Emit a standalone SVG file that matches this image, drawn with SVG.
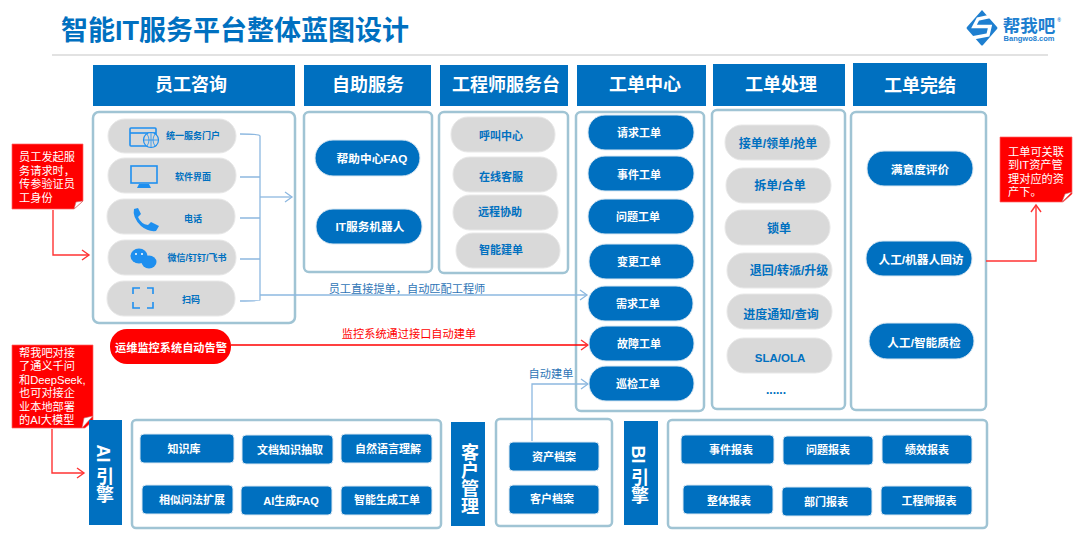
<svg xmlns="http://www.w3.org/2000/svg" width="1080" height="537" viewBox="0 0 1080 537">
<style>
text{font-family:"Liberation Sans","Noto Sans CJK SC",sans-serif;text-anchor:middle;font-weight:700}
.hd rect{fill:#0070c0}
.hd text{fill:#fff;font-size:18px}
.panel{fill:#fff;stroke:#a0c4d4;stroke-width:2.5}
.bp{fill:#0070c0;stroke:#dbe8f2;stroke-width:1}
.bt{fill:#fff;font-size:11px}
.bw{fill:#fff;font-size:11.7px}
.gp{fill:#d9d9d9;stroke:#e8e8e8;stroke-width:1}
.gt{fill:#0070c0;font-size:12px}
.gm{fill:#0070c0;font-size:11px}
.gs{fill:#0070c0;font-size:9px}
.note{fill:#f00;stroke:#f66;stroke-width:.7}
.nt{fill:#fff;font-size:11.2px;font-weight:400;text-anchor:start}
.vt{fill:#fff;font-size:18px}
.vv{writing-mode:vertical-rl}
.lb{font-size:11.2px;font-weight:400}
.blue{fill:none;stroke:#8db8e0;stroke-width:1.3}
.red{fill:none;stroke:#f33;stroke-width:1.4}
.icon{fill:#1e8fef}
.iconl{fill:none;stroke:#1e8fef;stroke-width:1.6}
</style>
<defs>
<marker id="ab" markerUnits="userSpaceOnUse" markerWidth="12" markerHeight="12" refX="9" refY="6" orient="auto"><path d="M2 1L9 6L2 11" fill="none" stroke="#8db8e0" stroke-width="1.3"/></marker>
<marker id="ar" markerUnits="userSpaceOnUse" markerWidth="12" markerHeight="12" refX="9" refY="6" orient="auto"><path d="M2 1L9 6L2 11" fill="none" stroke="#f33" stroke-width="1.4"/></marker>
</defs>
<g id="title">
<text x="235" y="40" style="font-size:27px;fill:#0070c0">智能IT服务平台整体蓝图设计</text>
<line x1="52" y1="55" x2="1048" y2="55" stroke="#d9d9d9" stroke-width="1.5"/>
</g>
<g id="logo">
<path d="M982 10L997 27Q998 28 997 29L983 45Q982 46 981 45L967 29Q966 28 967 27Z" fill="#1e7fd0"/>
<path d="M992 16L978 19L974 26.500H990L988 35L972 38" fill="none" stroke="#fff" stroke-width="3.400"/>
<text x="1029" y="32" style="font-size:17.500px;fill:#1e7fd0">帮我吧</text>
<text x="1029" y="41" style="font-size:7.500px;fill:#1e7fd0">Bangwo8.com</text>
<text x="1059" y="22" style="font-size:5px;fill:#1e7fd0">®</text>
</g>
<g id="h1" class="hd"><rect x="93" y="65" width="202" height="41"/><text x="191" y="91">员工咨询</text></g>
<g id="h2" class="hd"><rect x="304" y="65" width="127" height="41"/><text x="368" y="91">自助服务</text></g>
<g id="h3" class="hd"><rect x="440" y="65" width="128" height="41"/><text x="506" y="91">工程师服务台</text></g>
<g id="h4" class="hd"><rect x="577" y="65" width="129" height="41"/><text x="645" y="91">工单中心</text></g>
<g id="h5" class="hd"><rect x="713" y="64" width="132" height="42"/><text x="781" y="91">工单处理</text></g>
<g id="h6" class="hd"><rect x="853" y="63" width="134" height="43"/><text x="920" y="92">工单完结</text></g>

<g id="panels">
<rect class="panel" x="93" y="112" width="202" height="211" rx="6"/>
<rect class="panel" x="304" y="112" width="128" height="160" rx="5"/>
<rect class="panel" x="439" y="112" width="129" height="161" rx="5"/>
<rect class="panel" x="576" y="112" width="128" height="299" rx="5"/>
<rect class="panel" x="712" y="110" width="133" height="299" rx="5"/>
<rect class="panel" x="851" y="112" width="135" height="298" rx="5"/>
<rect class="panel" x="132" y="420" width="309" height="108" rx="4"/>
<rect class="panel" x="496" y="419" width="116" height="107" rx="4"/>
<rect class="panel" x="668" y="420" width="319" height="108" rx="4"/>
</g>

<g id="connectors">
<path class="blue" d="M240 134Q260 134 260 136V300Q260 301 240 301"/>
<path class="blue" d="M240 177H260M240 218H260M240 259H260"/>
<path class="blue" d="M260 197H292" marker-end="url(#ab)"/>
<path class="blue" d="M260 295H587" marker-end="url(#ab)"/>
<path class="blue" d="M532 441V384H588" marker-end="url(#ab)"/>
<path class="red" style="stroke:#f00" d="M231 345H588" marker-end="url(#ar)"/>
<path class="red" d="M53 210V255H89" marker-end="url(#ar)"/>
<path class="red" d="M52 429V473H84" marker-end="url(#ar)"/>
<path class="red" d="M986 261H1036V205" marker-end="url(#ar)"/>
<text class="lb" x="407" y="293" fill="#2e75b6">员工直接提单，自动匹配工程师</text>
<text class="lb" x="409" y="338" fill="#f00">监控系统通过接口自动建单</text>
<text class="lb" x="551" y="378" fill="#2e75b6">自动建单</text>
</g>

<g id="n-portal"><rect class="gp" x="108" y="119" width="128" height="34" rx="17"/>
<rect class="iconl" x="130" y="128" width="26" height="18" rx="1"/><path class="iconl" d="M130 133H156"/><circle cx="151" cy="140" r="7.500" fill="#d9d9d9" stroke="#1e8fef" stroke-width="1.200"/><path d="M143.500 140H158.500M151 132.500V147.500M147 134Q151 140 147 146M155 134Q151 140 155 146" fill="none" stroke="#1e8fef" stroke-width=".8"/>
<text class="gs" x="193" y="139">统一服务门户</text></g>
<g id="n-soft"><rect class="gp" x="108" y="158" width="128" height="35" rx="17"/>
<rect class="iconl" x="131" y="166" width="26" height="17" stroke-width="2"/><path class="icon" d="M139 184H149L151 188H137Z"/>
<text class="gs" x="193" y="180">软件界面</text></g>
<g id="n-phone"><rect class="gp" x="107" y="199" width="128" height="35" rx="17"/>
<path class="icon" d="M134 209L138 208L141 214L138 217Q141 224 148 225L151 222L159 226L156 231Q148 232 141 226Q132 217 134 209Z"/>
<text class="gs" x="193" y="222">电话</text></g>
<g id="n-wechat"><rect class="gp" x="108" y="240" width="128" height="35" rx="17"/>
<ellipse class="icon" cx="139" cy="256" rx="8.500" ry="7.500"/><ellipse class="icon" cx="149" cy="262" rx="7.500" ry="6.500"/><circle cx="136" cy="254" r="1" fill="#fff"/><circle cx="142" cy="254" r="1" fill="#fff"/>
<text class="gs" x="197" y="261">微信/钉钉/飞书</text></g>
<g id="n-scan"><rect class="gp" x="107" y="281" width="128" height="35" rx="17"/>
<path class="iconl" stroke-width="2" d="M133 294V288H140M147 288H153V294M153 302V308H147M140 308H133V302"/>
<text class="gs" x="191" y="303">扫码</text></g>

<g id="n-faq"><rect class="bp" x="315" y="140" width="105" height="36" rx="18"/><text class="bw" x="372" y="163">帮助中心FAQ</text></g>
<g id="n-bot"><rect class="bp" x="316" y="209" width="106" height="35" rx="17"/><text class="bw" x="370" y="231">IT服务机器人</text></g>

<g id="n-call"><rect class="gp" x="451" y="117" width="104" height="35" rx="17"/><text class="gm" x="501" y="140">呼叫中心</text></g>
<g id="n-online"><rect class="gp" x="453" y="157" width="104" height="35" rx="17"/><text class="gm" x="501" y="181">在线客服</text></g>
<g id="n-remote"><rect class="gp" x="453" y="195" width="105" height="35" rx="17"/><text class="gm" x="500" y="216">远程协助</text></g>
<g id="n-smart"><rect class="gp" x="456" y="233" width="104" height="35" rx="17"/><text class="gm" x="501" y="254">智能建单</text></g>

<g id="n-req"><rect class="bp" x="588" y="115" width="106" height="35" rx="17"/><text class="bt" x="639" y="137">请求工单</text></g>
<g id="n-inc"><rect class="bp" x="588" y="156" width="106" height="35" rx="17"/><text class="bt" x="639" y="179">事件工单</text></g>
<g id="n-prob"><rect class="bp" x="588" y="199" width="106" height="35" rx="17"/><text class="bt" x="638" y="221">问题工单</text></g>
<g id="n-chg"><rect class="bp" x="589" y="244" width="105" height="35" rx="17"/><text class="bt" x="639" y="266">变更工单</text></g>
<g id="n-dem"><rect class="bp" x="588" y="286" width="105" height="35" rx="17"/><text class="bt" x="638" y="308">需求工单</text></g>
<g id="n-flt"><rect class="bp" x="589" y="326" width="105" height="35" rx="17"/><text class="bt" x="639" y="348">故障工单</text></g>
<g id="n-pat"><rect class="bp" x="589" y="366" width="105" height="35" rx="17"/><text class="bt" x="638" y="388">巡检工单</text></g>

<g id="n-take"><rect class="gp" x="725" y="125" width="105" height="35" rx="17"/><text class="gt" x="778" y="148">接单/领单/抢单</text></g>
<g id="n-split"><rect class="gp" x="726" y="168" width="105" height="35" rx="17"/><text class="gt" x="780" y="190">拆单/合单</text></g>
<g id="n-lock"><rect class="gp" x="725" y="210" width="105" height="35" rx="17"/><text class="gt" x="779" y="233">锁单</text></g>
<g id="n-back"><rect class="gp" x="727" y="253" width="105" height="35" rx="17"/><text class="gt" x="789" y="275">退回/转派/升级</text></g>
<g id="n-prog"><rect class="gp" x="727" y="294" width="105" height="35" rx="17"/><text class="gt" x="781" y="319">进度通知/查询</text></g>
<g id="n-sla"><rect class="gp" x="727" y="338" width="105" height="35" rx="17"/><text class="gt" style="font-size:11.500px" x="780" y="362">SLA/OLA</text></g>
<text class="gt" x="776" y="394" id="n-more">......</text>

<g id="n-sat"><rect class="bp" x="867" y="151" width="106" height="35" rx="17"/><text class="bw" x="920" y="174">满意度评价</text></g>
<g id="n-visit"><rect class="bp" x="866" y="241" width="106" height="35" rx="17"/><text class="bw" x="921" y="264">人工/机器人回访</text></g>
<g id="n-qc"><rect class="bp" x="869" y="323" width="105" height="36" rx="18"/><text class="bw" x="924" y="347">人工/智能质检</text></g>

<g id="n-alarm"><rect x="110" y="329" width="121" height="35" rx="17" fill="#f00"/><text class="bt" style="font-size:11.200px" x="171" y="352">运维监控系统自动告警</text></g>

<g id="note1"><path class="note" d="M12 144H83V201L74 209H12Z"/><path d="M74 209L83 201L76 202Z" fill="#fff" stroke="#c66" stroke-width=".6"/>
<text class="nt" x="19" y="161">员工发起服</text><text class="nt" x="19" y="175">务请求时，</text><text class="nt" x="19" y="188">传参验证员</text><text class="nt" x="19" y="202">工身份</text></g>
<g id="note2"><path class="note" d="M12 345H93V421L85 428H12Z"/><path d="M82 428L93 416L84 418Z" fill="#fff" stroke="#c66" stroke-width=".6"/>
<text class="nt" x="19" y="357">帮我吧对接</text><text class="nt" x="19" y="370">了通义千问</text><text class="nt" x="19" y="384">和DeepSeek,</text><text class="nt" x="19" y="397">也可对接企</text><text class="nt" x="19" y="411">业本地部署</text><text class="nt" x="19" y="424">的AI大模型</text></g>
<g id="note3"><path class="note" d="M1000 137H1072V194L1063 202H1000Z"/><path d="M1062 202L1072 192L1065 194Z" fill="#fff" stroke="#c66" stroke-width=".6"/>
<text class="nt" x="1008" y="156">工单可关联</text><text class="nt" x="1008" y="169">到IT资产管</text><text class="nt" x="1008" y="183">理对应的资</text><text class="nt" x="1008" y="196">产下。</text></g>

<g id="v-ai"><rect x="89" y="420" width="33" height="105" fill="#0070c0"/><text class="vt vv" x="103" y="474">AI 引擎</text></g>
<g id="v-cust"><rect x="451" y="422" width="34" height="104" fill="#0070c0"/><text class="vt vv" x="468" y="479">客户管理</text></g>
<g id="v-bi"><rect x="624" y="421" width="34" height="104" fill="#0070c0"/><text class="vt vv" x="638" y="475">BI 引擎</text></g>

<g id="k1"><rect class="bp" x="140" y="434" width="94" height="29" rx="4"/><text class="bt" x="184" y="453">知识库</text></g>
<g id="k2"><rect class="bp" x="242" y="435" width="91" height="29" rx="4"/><text class="bt" x="290" y="454">文档知识抽取</text></g>
<g id="k3"><rect class="bp" x="341" y="434" width="91" height="29" rx="4"/><text class="bt" x="388" y="453">自然语言理解</text></g>
<g id="k4"><rect class="bp" x="142" y="485" width="91" height="29" rx="4"/><text class="bt" x="192" y="504">相似问法扩展</text></g>
<g id="k5"><rect class="bp" x="241" y="486" width="91" height="29" rx="4"/><text class="bt" x="291" y="505">AI生成FAQ</text></g>
<g id="k6"><rect class="bp" x="341" y="486" width="91" height="29" rx="4"/><text class="bt" x="387" y="504">智能生成工单</text></g>

<g id="c1"><rect class="bp" x="509" y="442" width="90" height="29" rx="4"/><text class="bt" x="554" y="461">资产档案</text></g>
<g id="c2"><rect class="bp" x="509" y="485" width="90" height="29" rx="4"/><text class="bt" x="552" y="503">客户档案</text></g>

<g id="b1"><rect class="bp" x="681" y="435" width="93" height="29" rx="4"/><text class="bt" x="731" y="454">事件报表</text></g>
<g id="b2"><rect class="bp" x="783" y="436" width="90" height="29" rx="4"/><text class="bt" x="828" y="454">问题报表</text></g>
<g id="b3"><rect class="bp" x="882" y="435" width="90" height="29" rx="4"/><text class="bt" x="927" y="454">绩效报表</text></g>
<g id="b4"><rect class="bp" x="683" y="485" width="90" height="29" rx="4"/><text class="bt" x="729" y="505">整体报表</text></g>
<g id="b5"><rect class="bp" x="782" y="487" width="90" height="29" rx="4"/><text class="bt" x="826" y="506">部门报表</text></g>
<g id="b6"><rect class="bp" x="881" y="486" width="91" height="29" rx="4"/><text class="bt" x="929" y="505">工程师报表</text></g>
</svg>
